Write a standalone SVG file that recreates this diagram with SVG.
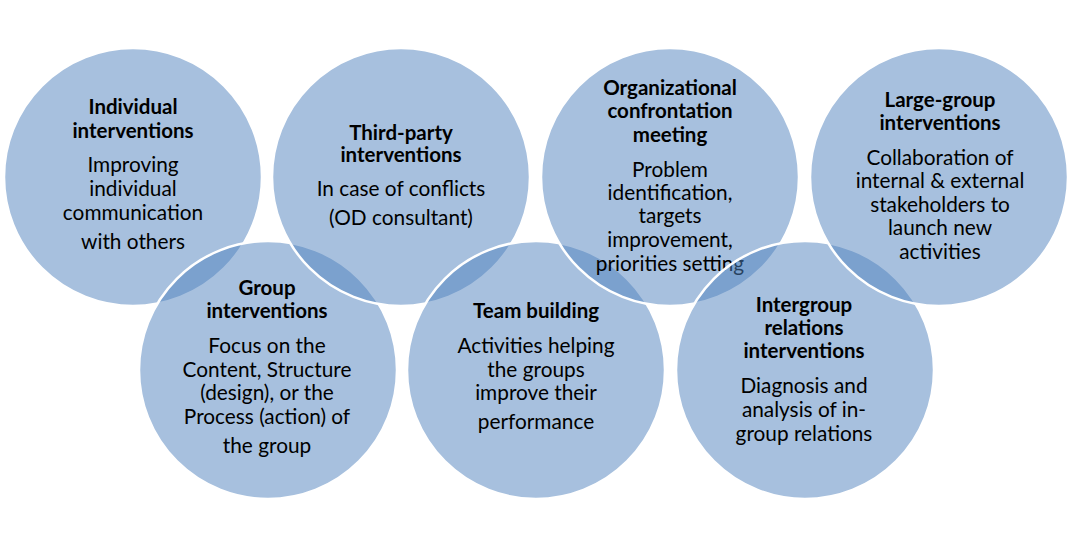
<svg xmlns="http://www.w3.org/2000/svg" width="1072" height="548" viewBox="0 0 1072 548">
<style>
.c{fill:#4F81BD;fill-opacity:0.5;stroke:#FFFFFF;stroke-width:2.5}
text{font-family:Lato,"Liberation Sans",sans-serif;font-size:20.8px;fill:#000;text-anchor:middle}
.b{font-weight:bold;font-size:20.5px}
</style>
<rect width="1072" height="548" fill="#FFFFFF"/>
<g id="individual">
<circle class="c" cx="133" cy="177" r="129"/>
<text x="133" y="114" class="b">Individual</text>
<text x="133" y="138" class="b">interventions</text>
<text x="133" y="172">Improving</text>
<text x="133" y="196">individual</text>
<text x="133" y="220">communication</text>
<text x="133" y="249">with others</text>
</g>
<g id="group">
<circle class="c" cx="268" cy="370" r="129"/>
<text x="267" y="295" class="b">Group</text>
<text x="267" y="318" class="b">interventions</text>
<text x="267" y="353">Focus on the</text>
<text x="267" y="377">Content, Structure</text>
<text x="267" y="400">(design), or the</text>
<text x="267" y="424">Process (action) of</text>
<text x="267" y="453">the group</text>
</g>
<g id="third-party">
<circle class="c" cx="401" cy="177" r="129"/>
<text x="401" y="140" class="b">Third-party</text>
<text x="401" y="162" class="b">interventions</text>
<text x="401" y="196">In case of conflicts</text>
<text x="401" y="225">(OD consultant)</text>
</g>
<g id="team-building">
<circle class="c" cx="536" cy="370" r="129"/>
<text x="536" y="318" class="b">Team building</text>
<text x="536" y="353">Activities helping</text>
<text x="536" y="377">the groups</text>
<text x="536" y="400">improve their</text>
<text x="536" y="429">performance</text>
</g>
<g id="organizational">
<circle class="c" cx="670" cy="177" r="129"/>
<text x="670" y="95" class="b">Organizational</text>
<text x="670" y="118" class="b">confrontation</text>
<text x="670" y="142" class="b">meeting</text>
<text x="670" y="177">Problem</text>
<text x="670" y="200">identification,</text>
<text x="670" y="223">targets</text>
<text x="670" y="247">improvement,</text>
<text x="670" y="271">priorities setting</text>
</g>
<g id="intergroup">
<circle class="c" cx="805" cy="370" r="129"/>
<text x="804" y="312" class="b">Intergroup</text>
<text x="804" y="335" class="b">relations</text>
<text x="804" y="358" class="b">interventions</text>
<text x="804" y="393">Diagnosis and</text>
<text x="804" y="417">analysis of in-</text>
<text x="804" y="441">group relations</text>
</g>
<g id="large-group">
<circle class="c" cx="939" cy="177" r="129"/>
<text x="940" y="107" class="b">Large-group</text>
<text x="940" y="130" class="b">interventions</text>
<text x="940" y="165">Collaboration of</text>
<text x="940" y="188">internal &amp; external</text>
<text x="940" y="212">stakeholders to</text>
<text x="940" y="235">launch new</text>
<text x="940" y="259">activities</text>
</g>
<g id="connectors"></g>
</svg>
